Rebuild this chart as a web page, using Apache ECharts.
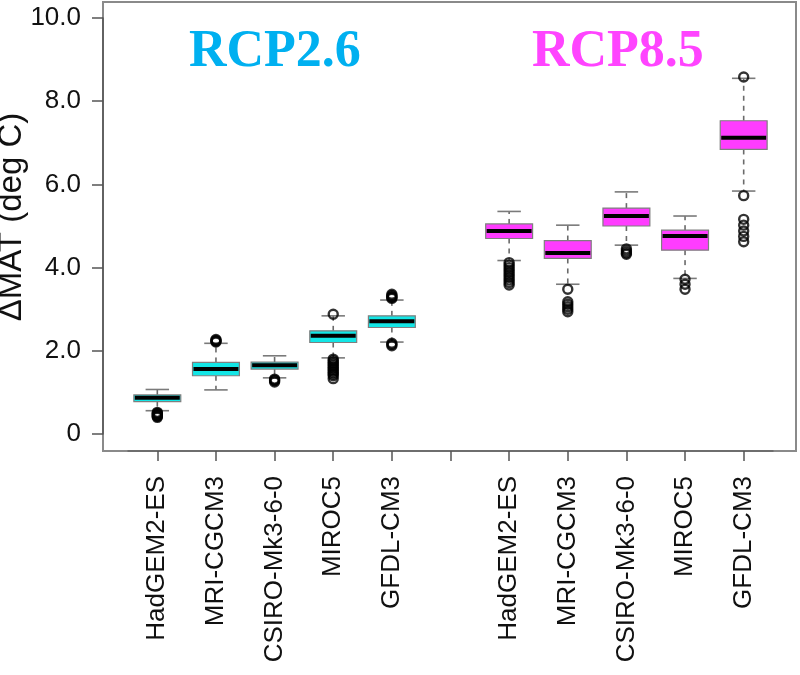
<!DOCTYPE html>
<html>
<head>
<meta charset="utf-8">
<script src="https://cdn.jsdelivr.net/npm/echarts@6/dist/echarts.min.js"></script>
<style>html,body{margin:0;padding:0;background:#fff}#chart{width:800px;height:675px}</style>
</head>
<body>
<div id="chart"></div>
<script>
// ---- data ----
const categories = ['HadGEM2-ES','MRI-CGCM3','CSIRO-Mk3-6-0','MIROC5','GFDL-CM3','',
                    'HadGEM2-ES','MRI-CGCM3','CSIRO-Mk3-6-0','MIROC5','GFDL-CM3'];
const scenario      = [0,0,0,0,0,null,1,1,1,1,1];   // 0 = RCP2.6, 1 = RCP8.5
const scenarioNames = ['RCP2.6','RCP8.5'];
const lowerWhisker  = [0.56,1.06,1.35,1.83,2.21,null,4.17,3.60,4.54,3.74,5.84];
const q1            = [0.78,1.40,1.56,2.20,2.56,null,4.70,4.22,5.00,4.42,6.84];
const median        = [0.87,1.56,1.65,2.36,2.71,null,4.88,4.35,5.24,4.76,7.12];
const q3            = [0.94,1.72,1.73,2.48,2.84,null,5.05,4.65,5.43,4.90,7.53];
const upperWhisker  = [1.07,2.18,1.88,2.84,3.22,null,5.35,5.02,5.82,5.24,8.55];
const outliers = [
  [0.40,0.42,0.44,0.46,0.48,0.50,0.52],
  [2.21,2.23,2.25,2.27],
  [1.25,1.28,1.30,1.32],
  [2.88,1.80,1.76,1.72,1.68,1.64,1.60,1.56,1.52,1.48,1.44,1.40,1.33],
  [3.26,3.28,3.30,3.33,3.36,2.18,2.15,2.12],
  [],
  [4.12,4.06,4.00,3.94,3.88,3.82,3.76,3.70,3.64,3.58],
  [3.48,3.18,3.12,3.06,3.00,2.94],
  [4.45,4.40,4.35,4.32],
  [3.72,3.60,3.48],
  [8.58,5.73,5.16,5.02,4.88,4.75,4.62]
];
const yTicks = [0,2,4,6,8,10];
const yTickLabels = ['0','2.0','4.0','6.0','8.0','10.0'];
const yName = 'ΔMAT (deg C)';

// ---- styles ----
const boxColors   = ['#13E6E6','#FF3CFF'];
const titleColors = ['#00B0F0','#FF44FF'];

const boxData = [];
categories.forEach((c, i) => {
  if (scenario[i] === null) return;
  boxData.push([i, lowerWhisker[i], q1[i], median[i], q3[i], upperWhisker[i], scenario[i]]);
});
const outlierData = [];
outliers.forEach((arr, i) => arr.forEach(v => outlierData.push([i, v])));

function renderBox(params, api) {
  const i = api.value(0);
  const pLw = api.coord([i, api.value(1)]);
  const pQ1 = api.coord([i, api.value(2)]);
  const pMd = api.coord([i, api.value(3)]);
  const pQ3 = api.coord([i, api.value(4)]);
  const pUw = api.coord([i, api.value(5)]);
  const sc = api.value(6);
  const bw = api.size([1, 0])[0] * 0.8;
  const x = pMd[0];
  const whisk = {stroke:'#6a6a6a', lineWidth:1.6, lineDash:[5,5]};
  const cap = {stroke:'#7a7a7a', lineWidth:1.6};
  return {
    type: 'group',
    children: [
      {type:'line', shape:{x1:x,y1:pQ3[1],x2:x,y2:pUw[1]}, style:whisk},
      {type:'line', shape:{x1:x,y1:pQ1[1],x2:x,y2:pLw[1]}, style:whisk},
      {type:'line', shape:{x1:x-bw/4,y1:pUw[1],x2:x+bw/4,y2:pUw[1]}, style:cap},
      {type:'line', shape:{x1:x-bw/4,y1:pLw[1],x2:x+bw/4,y2:pLw[1]}, style:cap},
      {type:'rect', shape:{x:x-bw/2,y:pQ3[1],width:bw,height:pQ1[1]-pQ3[1]},
        style:{fill:boxColors[sc], stroke:'#7f7f7f', lineWidth:1.2}},
      {type:'line', shape:{x1:x-bw/2+1,y1:pMd[1],x2:x+bw/2-1,y2:pMd[1]},
        style:{stroke:'#000', lineWidth:4}}
    ]
  };
}

const chart = echarts.init(document.getElementById('chart'), null, {renderer:'canvas'});
chart.setOption({
  animation: false,
  backgroundColor: '#fff',
  title: scenarioNames.map((t, k) => ({
    text: t,
    left: k === 0 ? 189 : 532,
    top: 27,
    padding: 0,
    textStyle: {fontFamily:'Liberation Serif', fontWeight:'bold', fontSize:52, color:titleColors[k]}
  })),
  grid: [
    {left:128, right:27, top:18, bottom:241, containLabel:false, outerBoundsMode:'none'},
    {left:103, right:4, top:2, bottom:224, containLabel:false, outerBoundsMode:'none',
     show:true, borderColor:'#8a8a8a', borderWidth:2, backgroundColor:'transparent'}
  ],
  xAxis: [
    {type:'category', data:categories, gridIndex:0, offset:17,
     boundaryGap:true,
     axisLine:{show:true, onZero:false, lineStyle:{color:'#666', width:1.5}},
     axisTick:{show:true, alignWithLabel:true, length:10, lineStyle:{color:'#555', width:1.5}},
     axisLabel:{rotate:90, interval:0, margin:25, fontFamily:'Liberation Sans', fontSize:26, color:'#111'}},
    {type:'value', gridIndex:1, show:false}
  ],
  yAxis: [
    {type:'value', gridIndex:0, min:0, max:10, interval:2, offset:25,
     name: yName, nameLocation:'middle', nameGap:75, nameMoveOverlap:false,
     nameTextStyle:{fontFamily:'Liberation Sans', fontSize:33, color:'#111', padding:[0,0,0,18]},
     axisLine:{show:true, onZero:false, lineStyle:{color:'#555', width:1.5}},
     axisTick:{show:true, length:11, lineStyle:{color:'#555', width:1.5}},
     splitLine:{show:false},
     axisLabel:{margin:22, fontFamily:'Liberation Sans', fontSize:26, color:'#111',
       formatter: v => yTickLabels[yTicks.indexOf(v)]}},
    {type:'value', gridIndex:1, show:false}
  ],
  series: [
    {type:'custom', xAxisIndex:0, yAxisIndex:0, renderItem:renderBox, data:boxData, z:2,
     encode:{x:0, y:[1,2,3,4,5]}},
    {type:'scatter', xAxisIndex:0, yAxisIndex:0, data:outlierData, symbol:'circle', symbolSize:9, z:3,
     itemStyle:{color:'rgba(255,255,255,0)', borderColor:'#000', borderWidth:2.4}}
  ]
});
</script>
</body>
</html>
